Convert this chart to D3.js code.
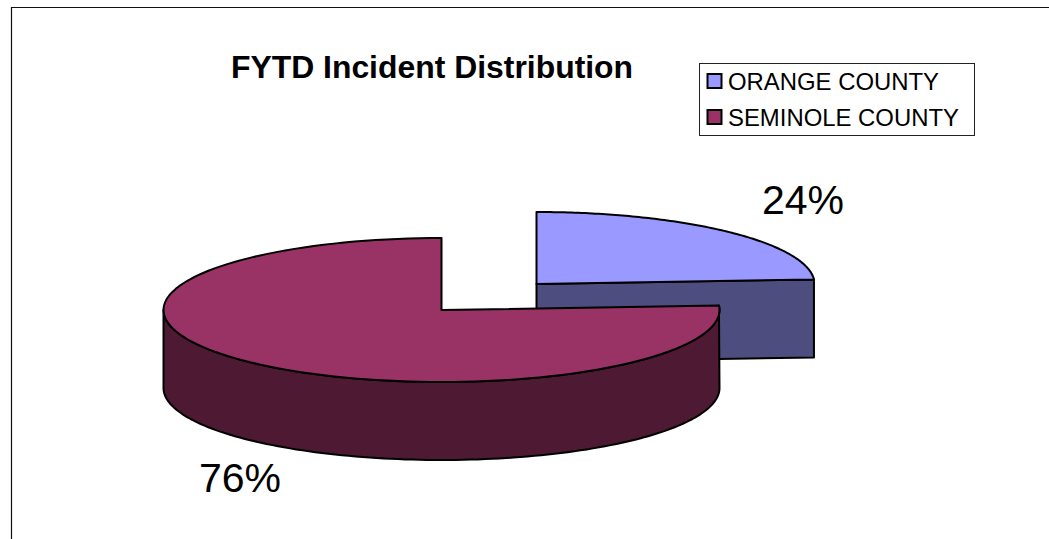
<!DOCTYPE html>
<html><head><meta charset="utf-8"><style>html,body{margin:0;padding:0;background:#fff;overflow:hidden}svg{display:block}text{font-family:"Liberation Sans",Arial,sans-serif;fill:#000}</style>
<script src="https://cdn.jsdelivr.net/npm/d3@7"></script></head><body><script>
const categories = ["ORANGE COUNTY", "SEMINOLE COUNTY"];
const shares = [24, 76];
const labels = ["24%", "76%"];
const topColors = ["#9999ff", "#993366"];
const sideColors = ["#4d4d80", "#4d1933"];

const W = 1049, H = 539;
const svg = d3.select("body").append("svg").attr("width", W).attr("height", H);
svg.append("path").attr("d", `M11.5 ${H}V7.5H${W}`).attr("fill", "none").attr("stroke", "#111").attr("stroke-width", 1.2);

const rx = 278, ry = 72, depth = 78;
const centers = [[536.5, 284], [441.5, 310]];
const arcs = d3.pie().sort(null).value(d => d)(shares);
const line = d3.line();
const pt = (c, a, dy = 0) => [c[0] + rx * Math.sin(a), c[1] - ry * Math.cos(a) + dy];
const rim = (c, a0, a1, dy = 0) => d3.range(0, 121).map(i => pt(c, a0 + (a1 - a0) * i / 120, dy));
const stroke = g => g.attr("stroke", "#000").attr("stroke-width", 2).attr("stroke-linejoin", "round");

arcs.forEach((d, i) => {
  const c = centers[i], g = svg.append("g");
  let side;
  if (i === 0) {
    // cut face running from the centre to the rim, seen from the front
    const e = pt(c, d.endAngle);
    side = [c, e, [e[0], e[1] + depth], [c[0], c[1] + depth]];
  } else {
    // outer wall: visible part of the rim, from the right end round to the left end
    const a0 = d.startAngle, a1 = 3 * Math.PI / 2;
    side = rim(c, a0, a1).concat(rim(c, a1, Math.PI / 2, depth));
  }
  g.append("path").attr("d", line(side) + "Z").attr("fill", sideColors[i]).call(stroke);
  const top = [c].concat(rim(c, d.startAngle, d.endAngle));
  g.append("path").attr("d", line(top) + "Z").attr("fill", topColors[i]).call(stroke);
});

svg.append("text").attr("x", 432).attr("y", 78).attr("text-anchor", "middle")
  .attr("font-size", 31.9).attr("font-weight", "bold").text("FYTD Incident Distribution");

const labelPos = [[803, 214], [240, 492]];
labels.forEach((t, i) => svg.append("text").attr("x", labelPos[i][0]).attr("y", labelPos[i][1])
  .attr("text-anchor", "middle").attr("font-size", 41).text(t));

const legend = svg.append("g");
legend.append("rect").attr("x", 699.5).attr("y", 63.5).attr("width", 275).attr("height", 72)
  .attr("fill", "#fff").attr("stroke", "#222").attr("stroke-width", 1);
const ly = d3.scalePoint().domain(categories).range([81, 117]);
categories.forEach((name, i) => {
  legend.append("rect").attr("x", 707.5).attr("y", ly(name) - 7).attr("width", 14).attr("height", 14)
    .attr("fill", topColors[i]).attr("stroke", "#000").attr("stroke-width", 2);
  legend.append("text").attr("x", 728).attr("y", ly(name) + 8.5).attr("font-size", 23.9).text(name);
});
</script></body></html>
